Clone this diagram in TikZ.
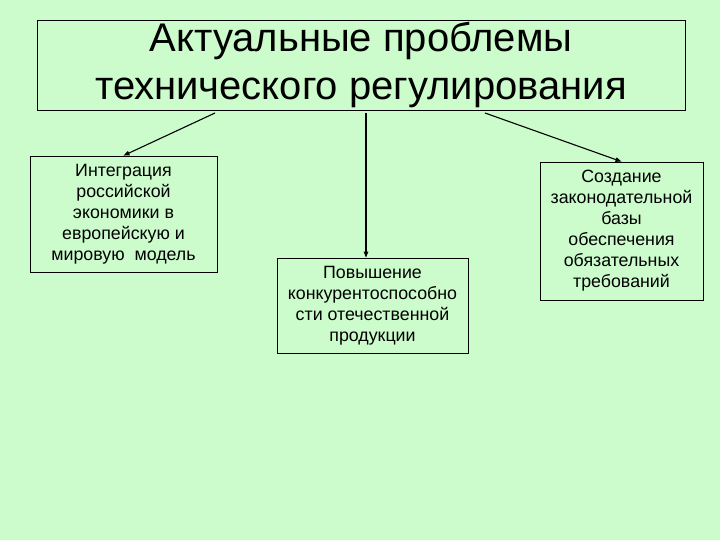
\documentclass[tikz,border=0pt]{standalone}
\usepackage{fontspec}
\setmainfont{Liberation Sans}
\usepackage{tikz}
\usetikzlibrary{arrows.meta}
\definecolor{slidebg}{RGB}{204,252,204}
\tikzset{>/.tip={Triangle[length=6pt,width=4.5pt]},
  box/.style={draw, line width=0.8pt, align=center, inner sep=0pt,
    font=\fontsize{17.8}{21}\selectfont},
  link/.style={->, line width=1.1pt}}

\begin{document}
\begin{tikzpicture}[x=1pt, y=-1pt]
 \fill[slidebg] (0,0) rectangle (720,540);
 \useasboundingbox (0,0) rectangle (720,540);

 \node[box, minimum width=648pt, minimum height=90pt,
       font=\fontsize{40}{48}\selectfont] (title) at (361, 65)
   {Актуальные проблемы\\технического регулирования};
 \node[box, minimum width=187pt, minimum height=116pt] (integ) at (123.5, 214)
   {Интеграция\\российской\\экономики в\\европейскую и\\мировую\ \ модель};
 \node[box, minimum width=191pt, minimum height=95pt] (konk) at (372.5, 305.5)
   {Повышение\\конкурентоспособно\\сти отечественной\\продукции};
 \node[box, minimum width=163pt, minimum height=138pt] (zakon) at (621.5, 231)
   {Создание\\законодательной\\базы\\обеспечения\\обязательных\\требований};

 \coordinate (t1) at (215, 113);
 \coordinate (t2) at (366, 113);
 \coordinate (t3) at (485, 113);

 \path[link] (t1) edge (integ.north);
 \path[link] (t2) edge (konk.north -| t2);
 \path[link] (t3) edge (zakon.north);
\end{tikzpicture}
\end{document}
